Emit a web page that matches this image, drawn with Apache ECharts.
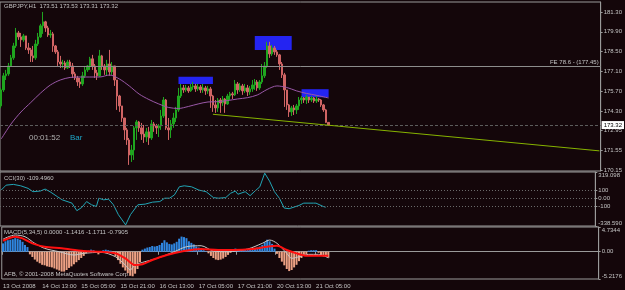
<!DOCTYPE html>
<html>
<head>
<meta charset="utf-8">
<script src="https://cdn.jsdelivr.net/npm/echarts@6/dist/echarts.min.js"></script>
<style>
  html, body { margin: 0; padding: 0; background: #14060a; }
  #chart { width: 625px; height: 290px; }
</style>
</head>
<body>
<div id="chart"></div>
<script>
// GBPJPY H1, 13 Oct 21:00 .. 21 Oct 10:00 (134 bars)
const firstOpen = 174.67;
const closes = [
  175.80, 176.79, 176.93, 177.49, 178.06, 178.90, 179.82, 179.54, 179.33, 179.61,
  178.76, 178.62, 178.20, 178.06, 179.04, 179.54, 180.32, 180.60, 180.17, 179.68,
  179.75, 178.90, 178.48, 177.77, 177.63, 177.70, 177.35, 177.77, 177.49, 176.93,
  176.64, 176.36, 176.22, 176.79, 177.21, 177.49, 177.99, 177.49, 177.00, 176.79,
  178.20, 177.49, 177.21, 177.63, 177.07, 177.49, 176.50, 175.37, 174.67, 173.82,
  172.98, 172.27, 171.21, 171.56, 173.12, 173.54, 173.12, 172.69, 172.48, 172.84,
  172.41, 173.40, 173.26, 173.12, 173.26, 173.96, 175.09, 173.12, 172.98, 173.40,
  173.82, 174.39, 175.37, 175.94, 175.80, 175.94, 175.73, 176.01, 176.08, 175.87,
  176.01, 175.80, 175.94, 175.73, 175.87, 175.37, 174.74, 174.53, 175.09, 174.88,
  175.16, 174.81, 175.37, 175.52, 175.45, 176.22, 175.80, 176.08, 175.73, 175.94,
  175.66, 175.87, 176.15, 176.36, 175.94, 176.36, 176.79, 177.49, 178.90, 178.34,
  178.76, 178.48, 178.27, 177.63, 176.86, 175.80, 174.74, 174.25, 174.53, 174.39,
  174.67, 175.09, 175.23, 175.09, 175.30, 175.09, 175.23, 175.02, 175.16, 175.09,
  174.74, 174.39, 173.51, 173.32
];
const highs = [
  175.94, 177.00, 177.21, 177.70, 178.27, 179.12, 180.17, 179.96, 179.82, 179.75,
  179.61, 179.12, 178.76, 178.90, 179.33, 179.82, 180.46, 181.30, 180.67, 180.32,
  180.03, 179.89, 178.97, 178.62, 178.20, 177.92, 177.85, 177.92, 177.92, 177.70,
  177.07, 176.79, 176.64, 177.07, 177.49, 177.56, 178.13, 178.27, 177.63, 177.21,
  178.62, 178.27, 177.63, 177.92, 178.62, 177.77, 177.49, 176.50, 175.45, 174.67,
  173.82, 173.12, 172.41, 171.92, 173.26, 173.68, 173.61, 173.47, 173.33, 173.12,
  173.19, 173.68, 173.54, 173.40, 173.40, 174.39, 175.30, 175.16, 173.82, 173.68,
  174.18, 174.60, 175.94, 176.22, 176.15, 176.15, 176.08, 176.22, 176.36, 176.22,
  176.22, 176.15, 176.22, 176.08, 176.08, 176.01, 175.45, 175.09, 175.23, 175.23,
  175.37, 175.23, 175.52, 175.66, 175.66, 176.50, 176.36, 176.29, 176.22, 176.22,
  176.15, 176.08, 176.50, 176.57, 176.50, 176.50, 177.63, 177.77, 179.19, 179.19,
  178.97, 178.90, 178.62, 178.34, 177.77, 177.00, 175.80, 174.81, 174.67, 174.74,
  174.81, 175.30, 175.37, 175.30, 175.45, 175.30, 175.37, 175.30, 175.37, 175.23,
  175.16, 174.81, 174.46, 173.53
];
const lows = [
  174.53, 175.66, 176.50, 176.79, 177.42, 177.92, 178.76, 179.33, 178.83, 179.19,
  178.62, 178.34, 177.77, 177.77, 177.92, 178.90, 179.47, 179.75, 179.89, 179.54,
  179.47, 178.48, 178.34, 177.49, 177.35, 177.35, 177.21, 177.28, 177.35, 176.64,
  176.50, 176.08, 175.94, 176.08, 176.64, 177.07, 177.21, 177.21, 176.64, 176.50,
  176.72, 177.21, 176.86, 176.79, 176.79, 176.86, 176.08, 174.39, 174.25, 173.54,
  172.27, 171.92, 170.51, 170.72, 170.86, 172.27, 172.84, 172.27, 172.06, 172.13,
  171.92, 172.27, 172.84, 172.69, 172.48, 172.98, 173.82, 172.98, 172.27, 172.41,
  173.12, 173.54, 174.25, 175.23, 175.59, 175.66, 175.59, 175.66, 175.80, 175.66,
  175.73, 175.59, 175.59, 175.45, 175.52, 174.53, 174.25, 174.18, 174.25, 174.18,
  174.67, 174.18, 174.74, 175.09, 175.16, 175.37, 175.52, 175.66, 175.45, 175.59,
  175.37, 175.45, 175.66, 175.80, 175.73, 175.80, 176.22, 176.64, 177.35, 178.06,
  178.20, 178.27, 178.13, 177.21, 176.64, 174.60, 174.39, 173.89, 173.96, 174.03,
  174.10, 174.39, 174.81, 174.88, 174.81, 174.88, 174.95, 174.88, 174.88, 174.95,
  174.60, 174.25, 173.47, 173.31
];

// purple moving average, read at every 4th bar
const maBars = [0, 4, 8, 12, 16, 20, 24, 28, 32, 36, 40, 44, 48, 52, 56, 60, 64, 68, 72, 76,
  80, 84, 88, 92, 96, 100, 104, 108, 112, 116, 120, 124, 128, 133];
const maVals = [172.34, 173.40, 174.24, 174.91, 175.58, 176.15, 176.50, 176.68, 176.71, 176.71,
  176.71, 176.85, 176.57, 176.08, 175.51, 175.12, 174.81, 174.56, 174.49, 174.63,
  174.81, 174.95, 174.97, 175.05, 175.16, 175.25, 175.44, 175.83, 176.08, 175.97,
  175.73, 175.55, 175.42, 175.23];

// drawn objects
const rects = [[72, 176.73, 86, 176.22], [103, 179.61, 118, 178.62], [122, 175.85, 133, 175.28]];
const trendLine = [[86, 174.08], [243, 171.50]];
const fibLevel = 177.45;
const lastPrice = 173.32;

// CCI(30)
const cciBars = [0, 2, 5, 8, 11, 13, 16, 18, 20, 23, 25, 29, 31, 33, 35, 37, 39, 40, 42, 44,
  46, 48, 51, 53, 56, 59, 62, 65, 67, 69, 71, 73, 75, 78, 81, 84, 87, 89, 92, 94,
  96, 97, 100, 102, 104, 106, 108, 110, 112, 114, 116, 118, 122, 124, 128, 129, 132, 133];
const cciVals = [99, 159, 168, 151, 120, 79, 87, 111, 79, 19, -20, -60, -152, -113, -41, -80, -101, 0, -20, -12,
  -80, -200, -325, -200, -80, -72, -48, -41, 0, 0, 40, 139, 151, 139, 99, 79, 7, 0, 7, 60,
  87, 48, 79, 31, 87, 139, 305, 207, 79, 0, -120, -128, -89, -60, -60, -60, -101, -109.5];
const cciLevels = [100, 0, -100];

// MACD pane
const macdHist = [
  1.6, 2.0, 2.2, 2.3, 2.4, 2.6, 2.5, 2.3, 1.9, 1.3, 0.9,
  -0.5, -1.0, -1.5, -1.9, -2.2, -2.5, -2.6, -2.8, -2.9, -3.0,
  -3.2, -3.4, -3.6, -3.8, -3.8, -3.5, -3.1, -2.8, -2.4, -2.0,
  -1.6, -1.2, -0.8, -0.3, 0.2, 0.4, 0.3, -0.2, -0.5, -0.2,
  0.3, 0.4, 0.3, 0.2, -0.2, -0.9, -1.6, -2.3, -3.0, -3.6,
  -4.1, -4.6, -4.7, -4.2, -3.3, -2.0, 0.4, 0.6, 0.8, 0.9,
  1.1, 1.0, 1.1, 1.3, 1.7, 2.2, 1.8, 1.5, 1.4, 1.6,
  1.9, 2.5, 2.9, 2.8, 2.6, 2.0, 1.7, 1.4, 1.0, 0.8,
  0.6, 0.3, 0.1, -0.3, -0.8, -1.2, -1.5, -1.6, -1.5, -1.3,
  -1.0, -0.6, -0.2, 0.2, 0.6, 0.5, 0.4, 0.5, 0.4, 0.5,
  0.4, 0.5, 0.6, 0.8, 1.0, 1.3, 1.8, 2.3, 2.0, 1.5,
  0.6, -0.4, -1.2, -1.9, -2.6, -3.3, -3.7, -3.5, -3.0, -2.5,
  -1.8, -1.2, -0.8, -0.5, 0.2, 0.3, 0.3, 0.3, -0.2, -0.8,
  -0.9, -1.0, -1.14
];
const mainBars = [0, 5, 9, 13, 17, 23, 29, 33, 40, 46, 50, 52, 54, 58, 63, 70, 75, 81, 86, 92,
  100, 106, 109, 112, 116, 118, 121, 125, 129, 133];
const mainVals = [2.4, 3.2, 2.87, 1.61, 0.65, 0.0, -0.63, -0.31, -0.11, -0.96, -2.55, -3.5, -2.55, -1.91, -1.26, 0.0, 0.96, 1.15, 0.13, 0.0,
  0.52, 1.61, 2.24, 1.61, -0.31, -1.26, -0.96, -0.5, -0.5, -1.17];
const signalBars = [0, 5, 8, 12, 17, 24, 33, 40, 46, 50, 54, 57, 61, 67, 74, 81, 88, 94, 102, 108,
  112, 116, 120, 124, 129, 133];
const signalVals = [2.1, 2.87, 2.56, 1.61, 0.96, 0.65, 0.13, 0.0, -0.31, -1.26, -2.55, -2.41, -1.59, -0.63, 0.13, 0.52, 0.33, 0.33, 0.52, 0.96,
  1.15, 0.33, -0.31, -0.77, -0.77, -0.79];

// axes
const priceTicks = [170.15, 171.55, 172.95, 174.30, 175.70, 177.10, 178.50, 179.90, 181.30];
const cciTicks = [-338.59, -100, 0, 100, 319.098];
const cciTickText = ['-338.590', '-100', '0.00', '100', '319.098'];
const macdTicks = [-5.2176, 0, 4.7344];
const macdTickText = ['-5.2176', '0.00', '4.7344'];
const timeLabels = ['13 Oct 2008', '14 Oct 13:00', '15 Oct 05:00', '15 Oct 21:00', '16 Oct 13:00',
  '17 Oct 05:00', '17 Oct 21:00', '20 Oct 13:00', '21 Oct 05:00'];
const barsPerLabel = 16;
const slotCount = 244; // includes empty space to the right of the last bar

const slots = [];
for (let i = 0; i < slotCount; i++) slots.push(i);
const candles = closes.map((c, i) => [i === 0 ? firstOpen : closes[i - 1], c, lows[i], highs[i]]);
const pairs = (xs, ys) => xs.map((x, k) => [x, ys[k]]);
const pick = (ticks, texts) => (v) => {
  const k = ticks.findIndex(t => Math.abs(t - v) < 1e-6);
  return k < 0 ? '' : texts[k];
};

const FONT = 'Liberation Sans';
const TXT = '#c4c4c4';
const FRAME = '#9a9a9a';
const showSlot = (i) => i % barsPerLabel === 0 && i / barsPerLabel < timeLabels.length;

const chart = echarts.init(document.getElementById('chart'));

const hiddenX = (idx) => ({
  type: 'category', gridIndex: idx, data: slots, boundaryGap: true,
  axisLine: { show: false }, axisTick: { show: false }, axisLabel: { show: false }, splitLine: { show: false }
});
const rightY = (idx, min, max, ticks, fmt, extra) => Object.assign({
  type: 'value', gridIndex: idx, position: 'right', min: min, max: max, scale: true,
  axisLine: { show: true, lineStyle: { color: FRAME } },
  axisTick: { show: true, length: 2, customValues: ticks, lineStyle: { color: FRAME } },
  splitLine: { show: false },
  axisLabel: { customValues: ticks, formatter: fmt, color: TXT, fontSize: 6, fontFamily: FONT, margin: 3 }
}, extra || {});

const option = {
  backgroundColor: '#14060a',
  animation: false,
  grid: [
    { left: 0, right: 22, top: 2, height: 169, show: true, borderColor: FRAME, borderWidth: 1 },
    { left: 0, right: 22, top: 172, height: 54, show: true, borderColor: FRAME, borderWidth: 1 },
    { left: 0, right: 22, top: 227, height: 52, show: true, borderColor: FRAME, borderWidth: 1 }
  ],
  xAxis: [
    hiddenX(0),
    hiddenX(1),
    {
      type: 'category', gridIndex: 2, data: slots, boundaryGap: true,
      axisLine: { show: true, lineStyle: { color: FRAME } },
      axisTick: { show: true, length: 3, interval: showSlot, lineStyle: { color: FRAME } },
      splitLine: { show: false },
      axisLabel: {
        interval: showSlot,
        formatter: (v, i) => timeLabels[i / barsPerLabel],
        color: TXT, fontSize: 6, fontFamily: FONT, align: 'left', margin: 4
      }
    }
  ],
  yAxis: [
    rightY(0, 170.08, 182.0, priceTicks, v => v.toFixed(2)),
    (() => {
      const a = rightY(1, -338.59, 319.098, cciTicks, pick(cciTicks, cciTickText));
      a.axisLabel.verticalAlignMaxLabel = 'top';
      a.axisLabel.verticalAlignMinLabel = 'bottom';
      return a;
    })(),
    (() => {
      const a = rightY(2, -5.2176, 4.7344, macdTicks, pick(macdTicks, macdTickText));
      a.axisLabel.verticalAlignMaxLabel = 'top';
      a.axisLabel.verticalAlignMinLabel = 'bottom';
      return a;
    })()
  ],
  graphic: [
    { type: 'text', left: 4, top: 3, style: { text: 'GBPJPY,H1  173.51 173.53 173.31 173.32', fill: TXT, font: '6px ' + FONT } },
    { type: 'text', left: 29, top: 134, style: { text: '00:01:52', fill: '#b0b0b0', font: '8px ' + FONT } },
    { type: 'text', left: 70, top: 134, style: { text: 'Bar', fill: '#1ea6c8', font: '8px ' + FONT } },
    { type: 'text', left: 4, top: 175, style: { text: 'CCI(30) -109.4960', fill: TXT, font: '6px ' + FONT } },
    { type: 'text', left: 4, top: 229, style: { text: 'MACD(5,34,5) 0.0000 -1.1416 -1.1711 -0.7905', fill: TXT, font: '6px ' + FONT } },
    { type: 'text', left: 4, top: 271, style: { text: 'AFB, \u00a9 2001-2008 MetaQuotes Software Corp.', fill: TXT, font: '6px ' + FONT } }
  ],
  series: [
    {
      name: 'objects', type: 'line', xAxisIndex: 0, yAxisIndex: 0, data: [], z: 1,
      markArea: {
        silent: true,
        itemStyle: { color: '#2424f2', opacity: 1 },
        data: rects.map(r => [{ coord: [r[0], r[1]] }, { coord: [r[2], r[3]] }])
      }
    },
    {
      name: 'GBPJPY', type: 'candlestick', xAxisIndex: 0, yAxisIndex: 0, z: 3,
      data: candles, barWidth: 2,
      itemStyle: { color: '#1fa51f', color0: '#d06464', borderColor: '#1fa51f', borderColor0: '#d06464', borderWidth: 1 },
      markLine: {
        silent: true, symbol: 'none', animation: false,
        data: [
          {
            yAxis: fibLevel, lineStyle: { color: '#8c8c8c', width: 1, type: 'solid' },
            label: { show: true, position: 'insideEndTop', formatter: 'FE 78.6 - (177.45)', color: TXT, fontSize: 6, fontFamily: FONT, distance: [2, 1] }
          },
          {
            yAxis: lastPrice, lineStyle: { color: '#5c5c5c', width: 1, type: [3, 2] },
            label: { show: true, position: 'end', formatter: '173.32', color: '#000', backgroundColor: '#fff', padding: [1, 2], fontSize: 6, fontFamily: FONT, distance: 1 }
          },
          [
            { coord: trendLine[0], lineStyle: { color: '#86b300', width: 1, type: 'solid' }, label: { show: false } },
            { coord: trendLine[1] }
          ]
        ]
      }
    },
    {
      name: 'MA', type: 'line', xAxisIndex: 0, yAxisIndex: 0, z: 4,
      data: pairs(maBars, maVals), showSymbol: false, smooth: 0.3,
      lineStyle: { color: '#9a58a8', width: 1 }
    },
    {
      name: 'CCI', type: 'line', xAxisIndex: 1, yAxisIndex: 1, z: 3,
      data: pairs(cciBars, cciVals), showSymbol: false,
      lineStyle: { color: '#22a6b6', width: 1 },
      markLine: {
        silent: true, symbol: 'none', animation: false, label: { show: false },
        lineStyle: { color: '#6a6a6a', type: [1, 2], width: 1 },
        data: cciLevels.map(v => ({ yAxis: v }))
      }
    },
    {
      name: 'hist', type: 'bar', xAxisIndex: 2, yAxisIndex: 2, z: 2,
      data: macdHist, barWidth: 2,
      itemStyle: { color: p => (p.value >= 0 ? '#2f86e0' : '#eda184') }
    },
    {
      name: 'main', type: 'line', xAxisIndex: 2, yAxisIndex: 2, z: 3,
      data: pairs(mainBars, mainVals), showSymbol: false, smooth: 0.3,
      lineStyle: { color: '#c8c8c8', width: 1 }
    },
    {
      name: 'signal', type: 'line', xAxisIndex: 2, yAxisIndex: 2, z: 4,
      data: pairs(signalBars, signalVals), showSymbol: false, smooth: 0.3,
      lineStyle: { color: '#ff1010', width: 2 }
    }
  ]
};

chart.setOption(option);
</script>
</body>
</html>
